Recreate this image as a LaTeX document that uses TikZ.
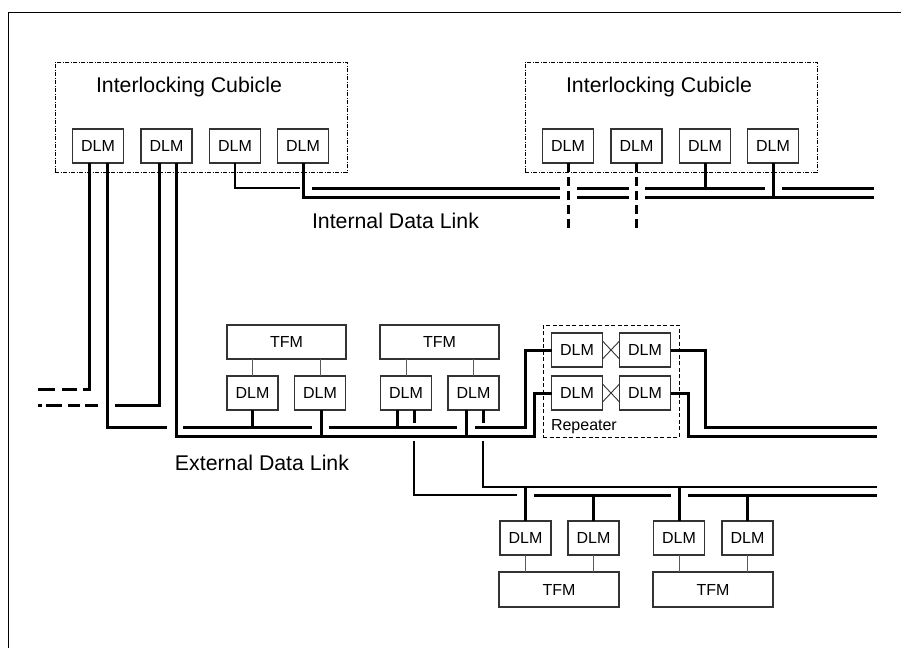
\documentclass[tikz,border=0pt]{standalone}
\usepackage{fontspec}
\setmainfont{Liberation Sans}
\definecolor{boxline}{HTML}{333333}
\definecolor{feedgray}{HTML}{5A5A5A}
\begin{document}
\begin{tikzpicture}[x=1pt,y=-1pt,
  every node/.style={inner sep=0pt, outer sep=0pt},
  dlm/.style={draw=boxline, line width=1.1pt, fill=white, minimum width=51pt,
    minimum height=34pt, font=\fontsize{16}{18}\selectfont},
  tfm/.style={dlm, minimum width=119pt},
  bus/.style={line width=3pt},
  link/.style={line width=2.3pt},
  feed/.style={draw=feedgray, line width=0.9pt},
  cubicle/.style={draw, line width=0.8pt,
    dash pattern=on 4pt off 1.5pt on 1pt off 1.5pt},
  repeaterbox/.style={draw, line width=0.9pt, dash pattern=on 4pt off 2.5pt},
  biglabel/.style={font=\fontsize{21.3}{24}\selectfont, anchor=base},
  smalllabel/.style={font=\fontsize{16}{18}\selectfont},
]
\useasboundingbox (0,0) rectangle (901,648);

% page frame
\draw[line width=1pt] (8,648) -- (8,12) -- (901,12);

% ---------------- interlocking cubicles ----------------
\node[cubicle, minimum width=292pt, minimum height=110pt] (cubL) at (201,117) {};
\node[cubicle, minimum width=292pt, minimum height=110pt] (cubR) at (671,117) {};
\node[biglabel] (cubLlbl) at (189,92) {Interlocking Cubicle};
\node[biglabel] (cubRlbl) at (659,92) {Interlocking Cubicle};

\node[dlm] (L1) at (98,146) {DLM};
\node[dlm] (L2) at (166.5,146) {DLM};
\node[dlm] (L3) at (235,146) {DLM};
\node[dlm] (L4) at (303,146) {DLM};

\node[dlm] (R1) at (568,146) {DLM};
\node[dlm] (R2) at (636.5,146) {DLM};
\node[dlm] (R3) at (705,146) {DLM};
\node[dlm] (R4) at (773,146) {DLM};

% ---------------- internal data link ----------------
\draw[link] (L3.south) |- (300,188);
\draw[bus] (L4.south) |- (560,197);
\draw[bus] (312,188) -- (560,188)
           (577,188) -- (629,188)
           (645,188) -- (765,188)
           (782,188) -- (874,188);
\draw[bus] (577,197) -- (629,197)
           (645,197) -- (874,197);
\draw[bus, dash pattern=on 9pt off 5pt] (R1.south) -- ++(0,68);
\draw[bus, dash pattern=on 9pt off 5pt] (R2.south) -- ++(0,68);
\draw[bus] (R3.south) -- ++(0,25);
\draw[bus] (R4.south) -- ++(0,34);
\node[biglabel] (intlbl) at (395.5,228) {Internal Data Link};

% ---------------- links from the left cubicle ----------------
\draw[bus] ([xshift=-9pt]L1.south) |- (83,389);
\draw[bus] (77,389) -- (62,389) (55,389) -- (38,389);
\draw[bus] ([xshift=9pt]L1.south) |- (167,427);
\draw[bus] ([xshift=-7.5pt]L2.south) |- (115,405);
\draw[bus] (98,405) -- (85,405) (80,405) -- (68,405)
           (62,405) -- (46,405) (42,405) -- (38,405);

% ---------------- repeater ----------------
\node[repeaterbox, minimum width=136pt, minimum height=112pt] (RP) at (611,381) {};
\node[dlm] (RA1) at (577,350) {DLM};
\node[dlm] (RA2) at (645,350) {DLM};
\node[dlm] (RA3) at (577,393) {DLM};
\node[dlm] (RA4) at (645,393) {DLM};
\draw[feed, draw=boxline] ([yshift=9pt]RA1.east) -- ([yshift=-9pt]RA2.west)
                          ([yshift=-9pt]RA1.east) -- ([yshift=9pt]RA2.west);
\draw[feed, draw=boxline] ([yshift=9pt]RA3.east) -- ([yshift=-9pt]RA4.west)
                          ([yshift=-9pt]RA3.east) -- ([yshift=9pt]RA4.west);
\node[smalllabel, anchor=base west] (replbl) at (551,430) {Repeater};

% ---------------- external data link ----------------
\draw[bus] ([xshift=9.5pt]L2.south) |- (534,436) |- (RA3.west);
\draw[bus] (183,427) -- (312,427)
           (329,427) -- (457,427);
\draw[bus] (475,427) -| (525,350) -- (RA1.west);
\draw[bus] (RA2.east) -| (705,427) -- (877,427);
\draw[bus] (RA4.east) -| (688,436) -- (877,436);
\node[biglabel] (extlbl) at (262,470) {External Data Link};

% train function modules on the external link
\node[tfm] (T1) at (286.5,342) {TFM};
\node[dlm] (D1) at (252.5,393) {DLM};
\node[dlm] (D2) at (320,393) {DLM};
\draw[feed] (T1.south -| D1.north) -- (D1.north);
\draw[feed] (T1.south -| D2.north) -- (D2.north);
\draw[bus] (D1.south) -- ++(0,17);
\draw[bus] ([xshift=1pt]D2.south) -- ++(0,26);

\node[tfm] (T2) at (439.5,342) {TFM};
\node[dlm] (D3) at (406,393) {DLM};
\node[dlm] (D4) at (473.5,393) {DLM};
\draw[feed] (T2.south -| D3.north) -- (D3.north);
\draw[feed] (T2.south -| D4.north) -- (D4.north);
\draw[bus] ([xshift=-9pt]D3.south) -- ++(0,17);
\draw[bus] ([xshift=8pt]D3.south) -- ++(0,13);
\draw[bus] ([xshift=-7.5pt]D4.south) -- ++(0,26);
\draw[bus] ([xshift=9.5pt]D4.south) -- ++(0,13);

% ---------------- lower bus ----------------
\draw[link] (414,441) |- (517,495);
\draw[link] (483,441) |- (877,487);
\draw[bus] (534,495) -- (671,495)
           (688,495) -- (877,495);

\node[dlm] (B1) at (525.5,538) {DLM};
\node[dlm] (B2) at (593.5,538) {DLM};
\node[dlm] (B3) at (679,538) {DLM};
\node[dlm] (B4) at (747.5,538) {DLM};
\node[tfm, minimum width=120pt, minimum height=35pt] (BT1) at (559,589.5) {TFM};
\node[tfm, minimum width=120pt, minimum height=35pt] (BT2) at (713,589.5) {TFM};
\draw[bus] (B1.north) -- ++(0,-34);
\draw[bus] (B2.north) -- ++(0,-26);
\draw[bus] (B3.north) -- ++(0,-34);
\draw[bus] (B4.north) -- ++(0,-26);
\draw[feed] (B1.south) -- (B1.south |- BT1.north);
\draw[feed] (B2.south) -- (B2.south |- BT1.north);
\draw[feed] (B3.south) -- (B3.south |- BT2.north);
\draw[feed] (B4.south) -- (B4.south |- BT2.north);
\end{tikzpicture}
\end{document}
